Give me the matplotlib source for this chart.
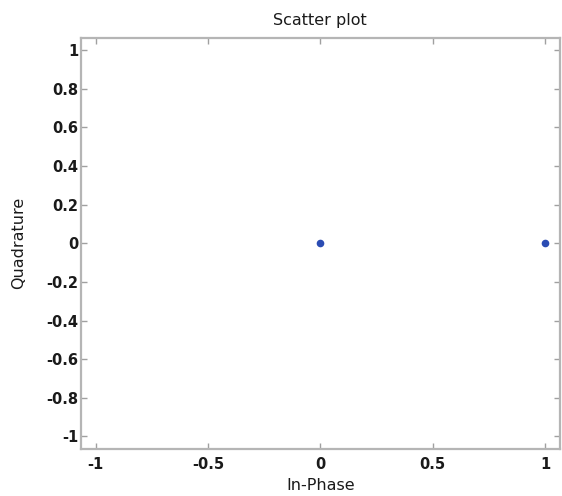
import matplotlib
matplotlib.use("Agg")
import matplotlib.pyplot as plt

# Constellation points
in_phase = [0.0, 1.0]
quadrature = [0.0, 0.0]

x_ticks = [-1, -0.5, 0, 0.5, 1]
x_tick_labels = ["-1", "-0.5", "0", "0.5", "1"]
y_ticks = [1, 0.8, 0.6, 0.4, 0.2, 0, -0.2, -0.4, -0.6, -0.8, -1]
y_tick_labels = ["1", "0.8", "0.6", "0.4", "0.2", "0", "-0.2", "-0.4", "-0.6", "-0.8", "-1"]

plt.rcParams["font.family"] = ["DejaVu Sans"]

fig = plt.figure(figsize=(5.62, 4.96), dpi=100)
ax = fig.add_axes([0.144, 0.095, 0.852, 0.829])

ax.plot(in_phase, quadrature, linestyle="none", marker="o", markersize=5.5,
        color="#2b4cb3", markeredgewidth=0)

lim = 1.065
ax.set_xlim(-lim, lim)
ax.set_ylim(-lim, lim)

ax.set_xticks(x_ticks)
ax.set_xticklabels(x_tick_labels)
ax.set_yticks(y_ticks)
ax.set_yticklabels(y_tick_labels)

for s in ax.spines.values():
    s.set_color("#b5b5b5")
    s.set_linewidth(1.6)

ax.tick_params(direction="in", length=4, width=1, color="#a0a0a0",
               top=True, right=True, labelsize=10.5, labelcolor="#1a1a1a")
ax.tick_params(axis="x", pad=6)
ax.tick_params(axis="y", pad=2)
for lbl in ax.get_xticklabels() + ax.get_yticklabels():
    lbl.set_fontweight("bold")

ax.set_title("Scatter plot", fontsize=11.5, color="#1a1a1a", pad=9)
ax.set_xlabel("In-Phase", fontsize=11.5, color="#1a1a1a", labelpad=4)
ax.set_ylabel("Quadrature", fontsize=11.5, color="#1a1a1a", labelpad=14)

fig.savefig("out.png", dpi=100, facecolor="white")
